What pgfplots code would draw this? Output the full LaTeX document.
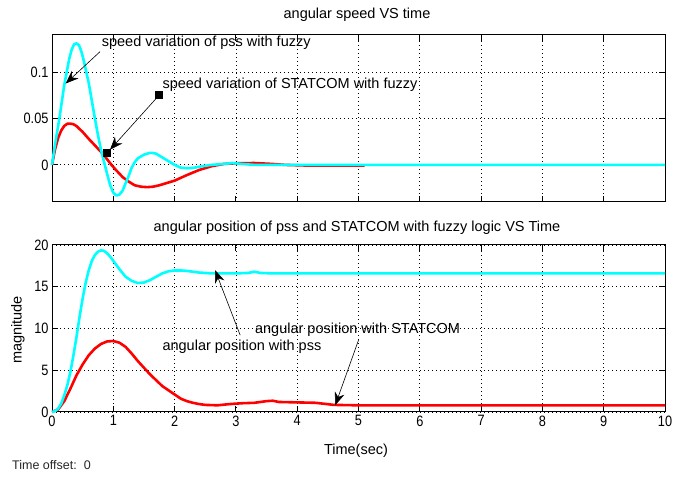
\documentclass[border=0pt]{standalone}
\usepackage{fontspec}
\setmainfont{Liberation Sans}
\newfontfamily\tickfont{Liberation Sans}[FakeStretch=0.85]
\usepackage{pgfplots}
\pgfplotsset{compat=1.18}
\usetikzlibrary{arrows.meta}

\definecolor{mlcyan}{RGB}{0,255,255}
\definecolor{mlred}{RGB}{255,0,0}

\newcommand{\txt}{\fontsize{14.5}{16}\selectfont}

\pgfplotsset{
  matlab/.style={
    scale only axis, width=613pt, height=167pt, anchor=south west,
    xmin=0, xmax=10, xtick={0,...,10},
    grid=major,
    major grid style={black, line width=0.8pt, dash pattern=on 0.8pt off 3.2pt},
    axis line style={black, line width=1pt},
    tick align=inside, major tick length=6pt,
    every tick/.style={black, line width=1pt},
    tick label style={font=\tickfont\fontsize{15}{17}\selectfont},
    /pgf/number format/assume math mode=true,
    clip=false,
  },
  curve/.style={line width=2.6pt, line join=round},
}
\tikzset{note/.style={-{Stealth[length=13pt,width=10pt]}, black, line width=0.6pt}}

\begin{document}
\begin{tikzpicture}
  \path[use as bounding box] (0pt,0pt) rectangle (688pt,481pt);

  % angular speed
  \begin{axis}[matlab, at={(52pt,279pt)},
      ymin=-0.04, ymax=0.14,
      ytick={0,0.05,0.1}, yticklabels={0,0.05,0.1},
      xticklabels={}]
    \addplot[curve, mlred] coordinates {
      (0,0) (0.05,0.017) (0.1,0.029) (0.15,0.037) (0.2,0.042) (0.25,0.0443)
      (0.3,0.0445) (0.35,0.0438) (0.4,0.0418) (0.5,0.0355) (0.6,0.028)
      (0.7,0.021) (0.8,0.014) (0.9,0.006) (0.97,0.0) (1.05,-0.006)
      (1.15,-0.013) (1.25,-0.018) (1.35,-0.022) (1.45,-0.0235) (1.55,-0.024)
      (1.65,-0.0235) (1.75,-0.022) (1.85,-0.02) (2.0,-0.017) (2.2,-0.011)
      (2.4,-0.0055) (2.6,-0.0015) (2.8,0.001) (3.0,0.0018) (3.3,0.002)
      (3.6,0.001) (3.8,0) (4.2,-0.0008) (5.1,-0.0008)
    };
    \addplot[curve, mlcyan] coordinates {
      (0,0) (0.04,0.018) (0.08,0.034) (0.12,0.05) (0.16,0.068) (0.2,0.086)
      (0.24,0.1) (0.28,0.114) (0.32,0.124) (0.36,0.13) (0.4,0.131)
      (0.44,0.129) (0.48,0.122) (0.52,0.112) (0.56,0.1) (0.6,0.088)
      (0.65,0.069) (0.7,0.05) (0.75,0.032) (0.8,0.016) (0.85,0.003)
      (0.9,-0.01) (0.95,-0.022) (1.0,-0.03) (1.05,-0.033) (1.1,-0.032)
      (1.15,-0.028) (1.2,-0.02) (1.25,-0.012) (1.3,-0.003) (1.35,0.003)
      (1.4,0.007) (1.5,0.011) (1.6,0.013) (1.65,0.0128) (1.7,0.012)
      (1.8,0.008) (1.9,0.004) (2.0,0.0) (2.1,-0.003) (2.2,-0.0036)
      (2.3,-0.0033) (2.4,-0.002) (2.6,0.0) (2.8,0.001) (2.95,0.002)
      (3.1,0.001) (3.3,0) (10,0)
    };
    % annotations
    \node[anchor=west, inner sep=0pt, font=\txt] at (axis cs:0.81,0.132) {speed variation of pss with fuzzy};
    \draw[note] (axis cs:0.783,0.122) -- (axis cs:0.223,0.0877);
    \node[anchor=west, inner sep=0pt, font=\txt] at (axis cs:1.80,0.0864) {speed variation of STATCOM with fuzzy};
    \draw[note] (axis cs:1.75,0.0753) -- (axis cs:0.946,0.0163);
    \node[fill=black, minimum size=8pt, inner sep=0pt] at (axis cs:1.75,0.0753) {};
    \node[fill=black, minimum size=8pt, inner sep=0pt] at (axis cs:0.892,0.0127) {};
  \end{axis}

  % angular position
  \begin{axis}[matlab, at={(52pt,69pt)},
      ymin=0, ymax=20, ytick={0,5,10,15,20}]
    \addplot[curve, mlred] coordinates {
      (0,0) (0.1,0.3) (0.2,1.3) (0.3,2.8) (0.4,4.4) (0.5,5.7) (0.6,6.8)
      (0.7,7.6) (0.8,8.15) (0.9,8.45) (1.0,8.5) (1.1,8.3) (1.2,7.8)
      (1.3,7.0) (1.4,6.1) (1.5,5.3) (1.6,4.5) (1.7,3.8) (1.8,3.1)
      (1.9,2.6) (2.0,2.1) (2.1,1.6) (2.2,1.3) (2.3,1.1) (2.4,0.95)
      (2.5,0.85) (2.7,0.8) (2.9,0.95) (3.1,1.05) (3.3,1.1) (3.5,1.3)
      (3.6,1.35) (3.7,1.2) (4.0,1.15) (4.3,1.1) (4.6,0.85) (5.0,0.8) (10,0.8)
    };
    \addplot[curve, mlcyan] coordinates {
      (0,0) (0.05,0.1) (0.1,0.4) (0.15,1.0) (0.2,2.0) (0.25,3.2) (0.3,4.8)
      (0.35,6.8) (0.4,9.0) (0.45,11.4) (0.5,13.6) (0.55,15.5) (0.6,17.0)
      (0.65,18.1) (0.7,18.8) (0.75,19.2) (0.8,19.35) (0.85,19.3) (0.9,19.0)
      (0.95,18.6) (1.0,18.1) (1.1,17.1) (1.2,16.2) (1.3,15.7) (1.4,15.45)
      (1.5,15.5) (1.6,15.8) (1.7,16.2) (1.8,16.6) (1.9,16.85) (2.0,16.95)
      (2.1,16.95) (2.2,16.9) (2.4,16.7) (2.6,16.6) (3.0,16.6) (3.2,16.65)
      (3.3,16.8) (3.4,16.65) (3.6,16.6) (10,16.6)
    };
    \node[anchor=west, inner sep=0pt, font=\txt] at (axis cs:3.31,9.8) {angular position with STATCOM};
    \node[anchor=west, inner sep=0pt, font=\txt] at (axis cs:1.80,7.83) {angular position with pss};
    \draw[note] (axis cs:3.07,9.2) -- (axis cs:2.66,17.0);
    \draw[note] (axis cs:5.0,8.6) -- (axis cs:4.62,0.8);
  \end{axis}

  % titles and labels
  \node[font=\txt] at (357pt,466pt) {angular speed VS time};
  \node[font=\txt] at (357pt,253pt) {angular position of pss and STATCOM with fuzzy logic VS Time};
  \node[font=\txt, rotate=90] at (18pt,151pt) {magnitude};
  \node[font=\txt] at (356pt,30pt) {Time(sec)};
  \node[font=\fontsize{12.5}{14}\selectfont, anchor=west, inner sep=0pt, text=black!85] at (12pt,16pt) {Time offset:\ \ 0};
\end{tikzpicture}
\end{document}
